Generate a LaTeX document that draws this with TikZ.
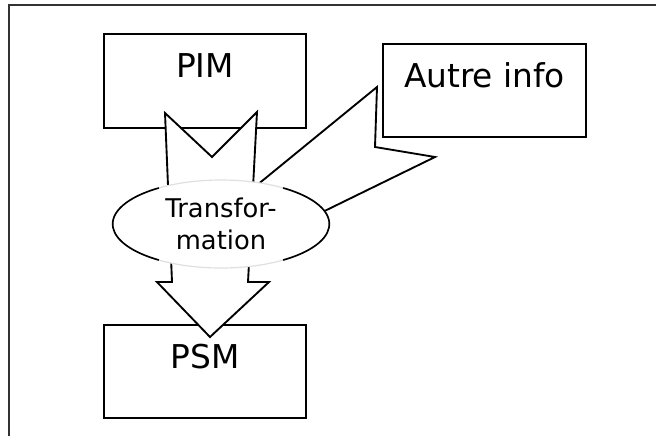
\documentclass[tikz,border=0pt]{standalone}
\usepackage{fontspec}
\setsansfont{DejaVu Sans}
\usetikzlibrary{shapes.geometric}
\tikzset{
  box/.style={draw, line width=1.6pt, inner sep=0pt, minimum width=6.06cm,
    text height=1.3cm, text depth=1.5cm, font=\sffamily\fontsize{28}{32}\selectfont},
  blockarrow/.style={draw, fill=white, line width=1.6pt, line join=miter},
  oval/.style={ellipse, fill=white, draw=gray!25, line width=1pt, minimum width=6.5cm,
    minimum height=2.64cm, inner sep=0pt, align=center, font=\sffamily\fontsize{22}{27}\selectfont},
  ovalside/.style={line width=1.4pt},
  frame/.style={draw=black!80, line width=1.5pt}
}
\begin{document}
\begin{tikzpicture}[x=0.03cm,y=-0.03cm]
  \useasboundingbox (0,0) rectangle (656,436);
  \draw[frame] (9,436) -- (9,5) -- (656,5);
  % boxes
  \node[box] (pim) at (205,81) {PIM};
  \node[box, minimum width=6.09cm] (autre) at (484.5,90.5) {Autre info};
  \node[box] (psm) at (205,371.5) {PSM};
  % big arrow PIM -> PSM
  \draw[blockarrow] (165,113) -- (212,157) -- (257,112) -- (248,282) -- (269,282)
    -- (210,337) -- (157,282) -- (172,282) -- cycle;
  % wedge from Autre info
  \draw[blockarrow] (240,199) -- (377,87) -- (375,147) -- (435,157) -- (300,223) -- cycle;
  % transformation
  \node[oval] (trans) at (221,224) {Transfor-\\mation};
  \draw[ovalside] (trans.center) ++(55:3.25cm and 1.32cm)
    arc[start angle=55, end angle=-55, x radius=3.25cm, y radius=1.32cm];
  \draw[ovalside] (trans.center) ++(125:3.25cm and 1.32cm)
    arc[start angle=125, end angle=235, x radius=3.25cm, y radius=1.32cm];
\end{tikzpicture}
\end{document}
